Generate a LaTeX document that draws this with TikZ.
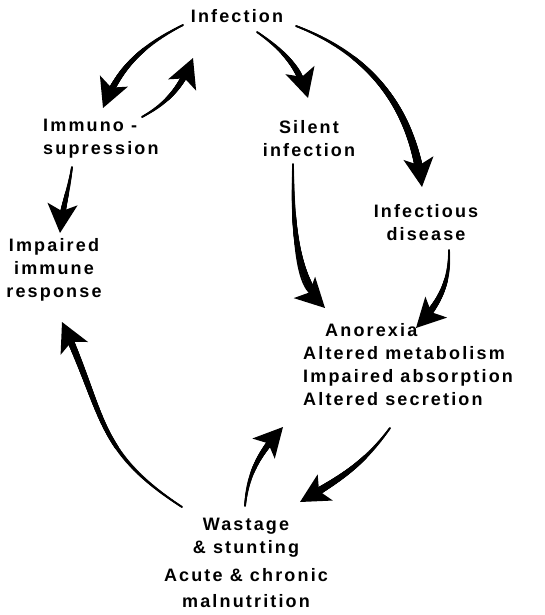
\documentclass[tikz,border=0pt]{standalone}
\usepackage{fontspec}
\usetikzlibrary{arrows.meta,decorations.markings}
\newfontfamily\lblfont[LetterSpace=12]{Liberation Sans}

\begin{document}
\begin{tikzpicture}[x=1pt, y=1pt,
        lbl/.style={font=\lblfont\bfseries\fontsize{18}{23}\selectfont, inner sep=0pt, align=center},
        cyc/.style={line width=1.8pt, -{Stealth[length=29pt,width=30pt,inset=7pt]},
          postaction={decorate, decoration={markings,
            mark=between positions 0 and -12pt step 0.5pt with {
              \pgfmathsetmacro\tapr{0.9+#1*\pgfkeysvalueof{/pgf/decoration/mark info/distance from start}/\pgfdecoratedpathlength}
              \fill (0,0) circle (\tapr pt);}}}},
        cyc/.default=2.8]
      \useasboundingbox (0,0) rectangle (544,-615);
      % Etiquetas del ciclo
      \node[lbl] (inf) at (237,-16) {Infection};
      \node[lbl, align=left, anchor=west] (imm) at (43,-138.5) {Immuno -\\supression};
      \node[lbl] (sil) at (309,-139) {Silent\\infection};
      \node[lbl] (dis) at (426,-223) {Infectious\\disease};
      \node[lbl] (imp) at (54,-270) {Impaired\\immune\\response};
      \node[lbl, align=left, anchor=west] (ano) at (303,-365)
        {\hspace*{22pt}Anorexia\\Altered metabolism\\Impaired absorption\\Altered secretion};
      \node[lbl] (was) at (246,-563) {Wastage\\\& stunting\\[5pt]Acute \& chronic\\[3pt]malnutrition};
      % Flechas desde la infeccion
      \draw[cyc] ([shift={(-54,-9)}]inf.center) to[out=207,in=68] ([shift={(60,30.5)}]imm.west);
      \draw[cyc] ([shift={(99,21.5)}]imm.west) to[out=29,in=248] ([shift={(-44,-42)}]inf.center);
      \draw[cyc] ([shift={(20,-16)}]inf.center) to[out=-35,in=106] ([shift={(-1,41)}]sil.center);
      \draw[cyc=3.6] ([shift={(59,-10)}]inf.center) to[out=-21,in=97] ([shift={(-4,36)}]dis.center);
      % Rama izquierda
      \draw[cyc] ([shift={(29,-28.5)}]imm.west) to[out=-98,in=85] ([shift={(6,37)}]imp.center);
      % Hacia anorexia
      \draw[cyc=3.2] ([shift={(-16,-25)}]sil.center) to[out=-90,in=135,looseness=0.8] ([shift={(22,57)}]ano.west);
      \draw[cyc=3.2] ([shift={(23,-27)}]dis.center) to[out=-88,in=46] ([shift={(113,37)}]ano.west);
      % Desnutricion
      \draw[cyc=3.4] ([shift={(87,-63)}]ano.west) to[out=234,in=30] ([shift={(54,61)}]was.center);
      \draw[cyc] ([shift={(-1,57)}]was.center) to[out=85,in=228] ([shift={(-20,-62)}]ano.west);
      \draw[cyc] ([shift={(-64,56)}]was.center) to[out=147,in=295,looseness=1.2] ([shift={(8,-52)}]imp.center);
    \end{tikzpicture}
\end{document}
